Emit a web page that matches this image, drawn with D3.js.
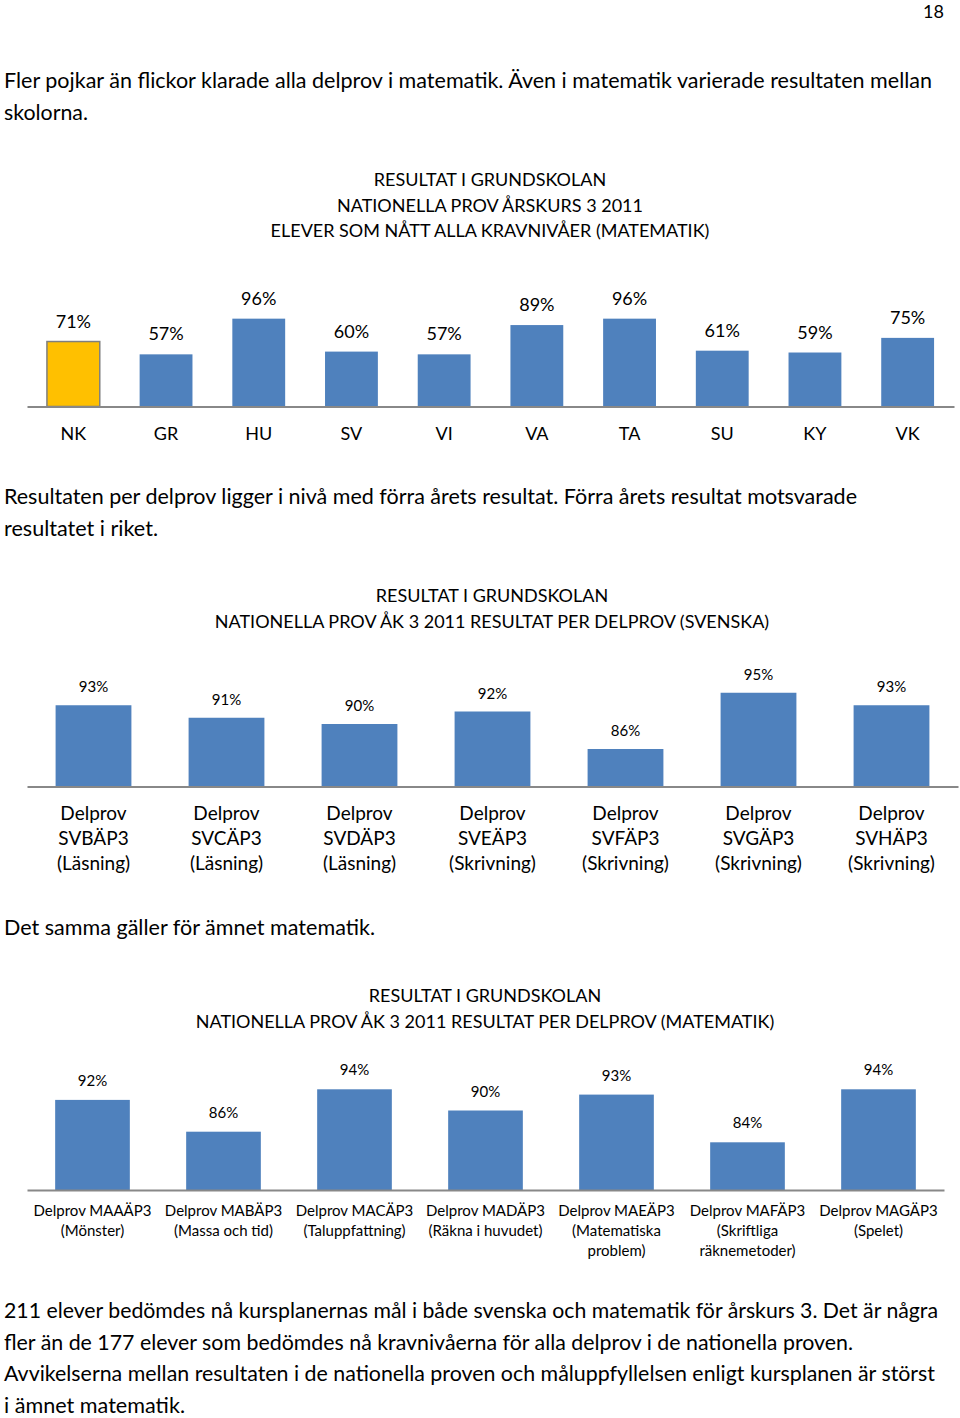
<!DOCTYPE html>
<html><head><meta charset="utf-8">
<script src="https://cdn.jsdelivr.net/npm/d3@7"></script>
<style>
body{margin:0;background:#fff}
svg{display:block}
text{font-family:Lato,"Open Sans",sans-serif;fill:#000}
</style>
</head><body><div id="c"></div>
<script>
// ---------- data ----------
const schools = ["NK","GR","HU","SV","VI","VA","TA","SU","KY","VK"];
const schoolValues = [0.71,0.57,0.96,0.60,0.57,0.89,0.96,0.61,0.59,0.75];
const highlightSchool = "NK";

const svTests = [
  ["Delprov","SVBÄP3","(Läsning)"],
  ["Delprov","SVCÄP3","(Läsning)"],
  ["Delprov","SVDÄP3","(Läsning)"],
  ["Delprov","SVEÄP3","(Skrivning)"],
  ["Delprov","SVFÄP3","(Skrivning)"],
  ["Delprov","SVGÄP3","(Skrivning)"],
  ["Delprov","SVHÄP3","(Skrivning)"]
];
const svValues = [0.93,0.91,0.90,0.92,0.86,0.95,0.93];

const maTests = [
  ["Delprov MAAÄP3","(Mönster)"],
  ["Delprov MABÄP3","(Massa och tid)"],
  ["Delprov MACÄP3","(Taluppfattning)"],
  ["Delprov MADÄP3","(Räkna i huvudet)"],
  ["Delprov MAEÄP3","(Matematiska","problem)"],
  ["Delprov MAFÄP3","(Skriftliga","räknemetoder)"],
  ["Delprov MAGÄP3","(Spelet)"]
];
const maValues = [0.92,0.86,0.94,0.90,0.93,0.84,0.94];

const title1 = ["RESULTAT I GRUNDSKOLAN","NATIONELLA PROV ÅRSKURS 3 2011","ELEVER SOM NÅTT ALLA KRAVNIVÅER (MATEMATIK)"];
const title2 = ["RESULTAT I GRUNDSKOLAN","NATIONELLA PROV ÅK 3 2011 RESULTAT PER DELPROV (SVENSKA)"];
const title3 = ["RESULTAT I GRUNDSKOLAN","NATIONELLA PROV ÅK 3 2011 RESULTAT PER DELPROV (MATEMATIK)"];

const para1 = ["Fler pojkar än flickor klarade alla delprov i matematik. Även i matematik varierade resultaten mellan","skolorna."];
const para2 = ["Resultaten per delprov ligger i nivå med förra årets resultat. Förra årets resultat motsvarade","resultatet i riket."];
const para3 = ["Det samma gäller för ämnet matematik."];
const para4 = ["211 elever bedömdes nå kursplanernas mål i både svenska och matematik för årskurs 3. Det är några",
  "fler än de 177 elever som bedömdes nå kravnivåerna för alla delprov i de nationella proven.",
  "Avvikelserna mellan resultaten i de nationella proven och måluppfyllelsen enligt kursplanen är störst",
  "i ämnet matematik."];
const pageNumber = "18";

// ---------- drawing ----------
const W = 960, H = 1418;
const svg = d3.select("#c").append("svg").attr("width", W).attr("height", H);
const BLUE = "#4F81BD", YELLOW = "#FFC000", AXIS = "#888888";
const pct = d3.format(".0%");

svg.append("text").attr("x", 944).attr("y", 18).attr("text-anchor","end")
  .style("font-size","18px").text(pageNumber);

function paragraph(lines, y0, widths, fs, step) {
  lines.forEach((t, i) => {
    svg.append("text").attr("x", 4).attr("y", y0 + i*step)
      .style("font-size", fs + "px")
      .attr("textLength", widths[i]).attr("lengthAdjust","spacingAndGlyphs")
      .text(t);
  });
}
paragraph(para1, 88, [928, 84], 21, 32);
paragraph(para2, 504, [853, 154], 21, 32);
paragraph(para3, 935, [371], 21, 32);
paragraph(para4, 1318, [934, 849, 931, 181], 21, 31.6);

function barChart(o) {
  const g = svg.append("g");
  o.title.forEach((t, i) => {
    g.append("text").attr("x", o.titleX).attr("y", o.titleY + i*o.titleStep)
      .attr("text-anchor","middle").style("font-size", o.titleFs + "px").text(t);
  });
  const x = d3.scaleBand().domain(o.cats.map((c,i)=>i)).range(o.xRange)
    .paddingInner(o.pad).paddingOuter(o.pad/2);
  const y = d3.scaleLinear().domain(o.yDomain).range([o.base, o.base - o.plotH]);

  g.selectAll("rect.bar").data(o.values).join("rect").attr("class","bar")
    .attr("x", (d,i) => x(i)).attr("width", x.bandwidth())
    .attr("y", d => y(d)).attr("height", d => o.base - y(d))
    .attr("fill", (d,i) => o.fill(i))
    .attr("stroke", (d,i) => o.stroke(i)).attr("stroke-width", 1.5);

  g.selectAll("text.val").data(o.values).join("text").attr("class","val")
    .attr("x", (d,i) => x(i) + x.bandwidth()/2).attr("y", d => y(d) - o.valGap)
    .attr("text-anchor","middle").style("font-size", o.valFs + "px")
    .text(d => pct(d));

  const axis = d3.axisBottom(x).tickSize(0).tickSizeOuter(0).tickFormat("");
  const ag = g.append("g").attr("transform", `translate(0,${o.base})`).call(axis);
  ag.select(".domain").attr("stroke", AXIS).attr("stroke-width", 2);
  ag.selectAll(".tick text").remove();
  ag.selectAll(".tick").each(function(d) {
    const t = d3.select(this).append("text").attr("text-anchor","middle")
      .style("font-size", o.catFs + "px").attr("fill","#000");
    o.cats[d].forEach((line, j) => {
      t.append("tspan").attr("x", 0).attr("y", o.catY + j*o.catStep).text(line);
    });
  });
  ag.attr("font-family", null);
}

barChart({
  title: title1, titleX: 490, titleY: 186, titleStep: 25.5, titleFs: 18,
  cats: schools.map(s => [s]), values: schoolValues,
  xRange: [27, 954], pad: 0.43, base: 406.5, yDomain: [0, 1], plotH: 91.5,
  fill: i => schools[i] === highlightSchool ? YELLOW : BLUE,
  stroke: i => schools[i] === highlightSchool ? "#7F7F7F" : "none",
  valGap: 14, valFs: 18, catY: 33, catStep: 25, catFs: 18
});

barChart({
  title: title2, titleX: 492, titleY: 602, titleStep: 25.5, titleFs: 18,
  cats: svTests, values: svValues,
  xRange: [27, 958], pad: 0.43, base: 786.5, yDomain: [0.8, 1], plotH: 125,
  fill: () => BLUE, stroke: () => "none",
  valGap: 13, valFs: 15, catY: 33, catStep: 25, catFs: 19
});

barChart({
  title: title3, titleX: 485, titleY: 1002, titleStep: 25.5, titleFs: 18,
  cats: maTests, values: maValues,
  xRange: [27, 944], pad: 0.43, base: 1190, yDomain: [0.75, 1], plotH: 132.5,
  fill: () => BLUE, stroke: () => "none",
  valGap: 14, valFs: 15, catY: 26, catStep: 20, catFs: 15
});
</script>
</body></html>
